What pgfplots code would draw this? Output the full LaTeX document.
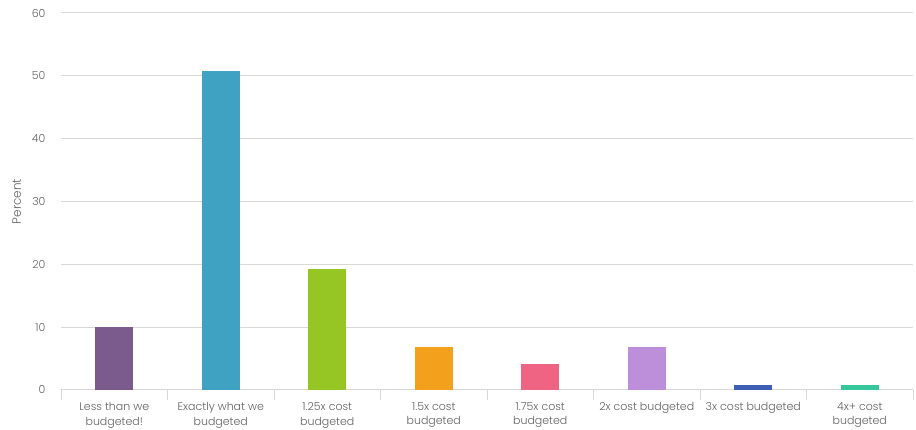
\documentclass[border=0pt]{standalone}
\usepackage{fontspec}
\setmainfont{Poppins Light}
\usepackage{pgfplots}
\pgfplotsset{compat=1.18}
\definecolor{txt}{HTML}{606060}
\definecolor{gridc}{HTML}{D8D8D8}
\definecolor{c1}{HTML}{7B5A8E}
\definecolor{c2}{HTML}{3FA2C3}
\definecolor{c3}{HTML}{95C623}
\definecolor{c4}{HTML}{F3A01C}
\definecolor{c5}{HTML}{EF6483}
\definecolor{c6}{HTML}{BD8ED9}
\definecolor{c7}{HTML}{3C5FB4}
\definecolor{c8}{HTML}{35C79A}
\begin{document}
\begin{tikzpicture}
\begin{axis}[
  at={(0pt,0pt)}, anchor=south west,
  scale only axis, width=852pt, height=377pt,
  xmin=-0.5, xmax=7.5, ymin=0, ymax=60,
  ytick={0,10,...,60},
  xtick={0,...,7},
  xticklabels={{Less than we\\budgeted!},{Exactly what we\\budgeted},{1.25x cost\\budgeted},{1.5x cost\\budgeted},{1.75x cost\\budgeted},{2x cost budgeted},{3x cost budgeted},{4x+ cost\\budgeted}},
  minor xtick={-0.5,0.5,...,7.5},
  major tick length=0pt,
  minor tick length=10pt,
  tick align=outside,
  minor tick style={gridc, line width=0.8pt},
  axis x line*=bottom,
  axis y line*=left,
  x axis line style={gridc, line width=1pt, -},
  y axis line style={draw=none},
  ymajorgrids, major grid style={gridc, line width=1pt},
  ylabel={Percent}, ylabel style={txt, font=\fontsize{12}{14}\selectfont},
  ylabel shift=4pt,
  every tick label/.style={txt},
  xticklabel style={align=center, font=\fontsize{11}{14.5}\selectfont, anchor=north, yshift=-9pt},
  yticklabel style={font=\fontsize{11}{13}\selectfont, xshift=-12pt},
  /pgf/number format/assume math mode=true,
  ybar, bar width=38pt, bar shift=0pt,
  clip=false,
]
\addplot[fill=c1, draw=none] coordinates {(0,10.1)};
\addplot[fill=c2, draw=none] coordinates {(1,50.7)};
\addplot[fill=c3, draw=none] coordinates {(2,19.3)};
\addplot[fill=c4, draw=none] coordinates {(3,6.8)};
\addplot[fill=c5, draw=none] coordinates {(4,4.1)};
\addplot[fill=c6, draw=none] coordinates {(5,6.8)};
\addplot[fill=c7, draw=none] coordinates {(6,0.8)};
\addplot[fill=c8, draw=none] coordinates {(7,0.8)};
\end{axis}
\pgfresetboundingbox
\path[use as bounding box] (-61pt,-40pt) rectangle (855pt,390pt);
\end{tikzpicture}
\end{document}
